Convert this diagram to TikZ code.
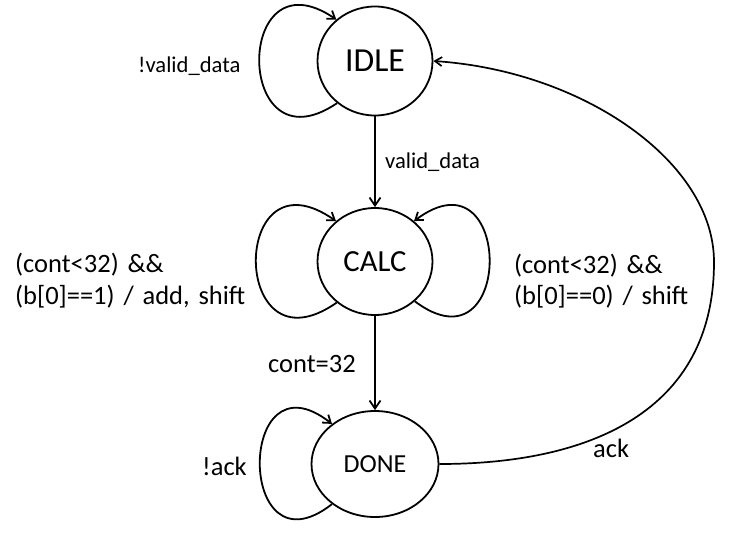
\documentclass[tikz,border=0pt]{standalone}
\usepackage{fontspec}
\setmainfont{Carlito}
\usetikzlibrary{arrows.meta,shapes.geometric}
\begin{document}
\begin{tikzpicture}[x=1pt,y=-1pt,
  state/.style={draw, ellipse, line width=1.8pt, inner sep=0pt},
  edge/.style={line width=1.8pt, -{Straight Barb[length=8pt,width=11pt]}},
  loopedge/.style={line width=1.8pt, -{Straight Barb[length=7pt,width=10pt]}},
  backedge/.style={line width=1.7pt, -{Straight Barb[length=7pt,width=9pt]}},
  lbl/.style={inner sep=0pt, anchor=base west, font=\fontsize{26.5}{31.5}\selectfont},
  smalllbl/.style={inner sep=0pt, anchor=base west, font=\fontsize{22.6}{27}\selectfont}]
\path[use as bounding box, fill=white] (0,0) rectangle (746,541);

\node[state, minimum width=115pt, minimum height=109pt, font=\fontsize{33.6}{40}\selectfont] (idle) at (375,61) {IDLE};
\node[state, minimum width=115pt, minimum height=107pt, font=\fontsize{30.7}{37}\selectfont] (calc) at (375,261.5) {CALC};
\node[state, minimum width=127pt, minimum height=106pt, font=\fontsize{26}{31}\selectfont] (done) at (375,464) {DONE};
\coordinate (rp) at (714,262);

\draw[edge] (idle) -- (calc);
\draw[edge] (calc) -- (done);
\draw[loopedge] (idle.228) .. controls +(-103,70) and +(-103,-70) .. (idle.133);
\draw[loopedge] (calc.227) .. controls +(-107,75) and +(-107,-75) .. (calc.134);
\draw[loopedge] (calc.315) .. controls +(100,75) and +(100,-75) .. (calc.46);
\draw[loopedge] (done.223) .. controls +(-96,75) and +(-96,-75) .. (done.137);
\draw[backedge] (done.east) .. controls +(150,0) and +(0,150) .. (rp) .. controls +(0,-100) and +(150,10) .. (idle.east);

\node[smalllbl] (lnv) at (138,72) {!valid\_data};
\node[smalllbl] (lv) at (385,168) {valid\_data};
\node[lbl, text width=250pt, align=left] (lc1) at (15,272.5) {(cont<32) \&\&\\(b[0]==1) / add, shift};
\node[lbl, text width=220pt, align=left] (lc0) at (514,273) {(cont<32) \&\&\\(b[0]==0) / shift};
\node[lbl] (lc32) at (268,372) {cont=32};
\node[lbl] (lna) at (202,475) {!ack};
\node[lbl] (la) at (593,457) {ack};
\end{tikzpicture}
\end{document}
